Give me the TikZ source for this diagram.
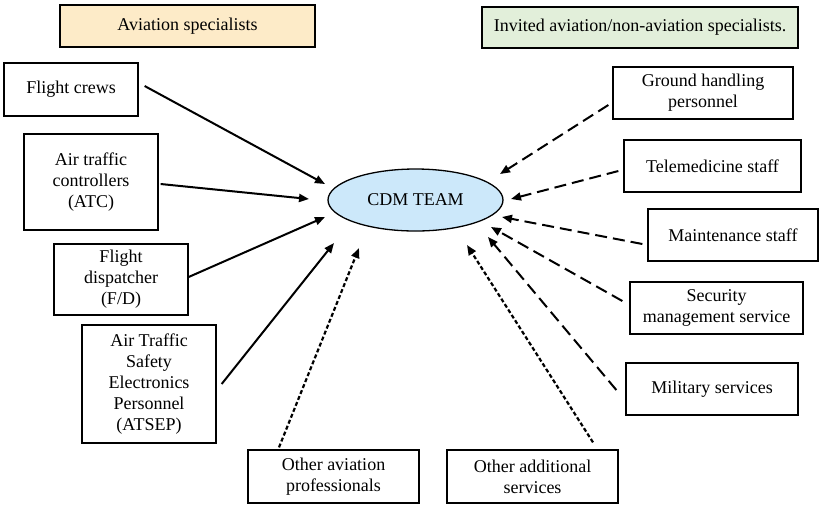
\documentclass[tikz,border=0pt]{standalone}
\usepackage{fontspec}
\setmainfont{Liberation Serif}
\usetikzlibrary{arrows.meta,shapes.geometric}
\definecolor{avfill}{RGB}{253,235,200}
\definecolor{invfill}{RGB}{226,239,218}
\definecolor{cdmfill}{RGB}{204,232,250}
\begin{document}
\begin{tikzpicture}[x=0.5pt,y=-0.5pt,
  every node/.style={font=\fontsize{9}{10.5}\selectfont},
  box/.style={draw, line width=0.65pt, align=center, inner sep=0pt},
  tip/.style={-{Triangle[length=5pt,width=4pt]}},
  solidlink/.style={tip, line width=1pt},
  dashlink/.style={tip, line width=1pt, dash pattern=on 6pt off 3pt},
  dotlink/.style={tip, line width=1.1pt, dash pattern=on 2pt off 1.2pt}]
\useasboundingbox (0,0) rectangle (819,505);

% group headers
\node[box, fill=avfill, minimum width=127.5pt, minimum height=21pt] (avs) at (187.5,26) {Aviation specialists};
\node[box, fill=invfill, minimum width=158pt, minimum height=20.5pt] (inv) at (640,27.5) {Invited aviation/non-aviation specialists.};

% central team
\node[ellipse, draw, line width=0.65pt, fill=cdmfill, minimum width=87.5pt, minimum height=31pt, inner sep=0pt] (cdm) at (415.5,200) {CDM TEAM};

% aviation specialists
\node[box, minimum width=67pt, minimum height=26.5pt] (fc) at (71,89.5) {Flight crews};
\node[box, minimum width=67pt, minimum height=48pt] (atc) at (91,182) {Air traffic\\controllers\\(ATC)};
\node[box, minimum width=67pt, minimum height=35.5pt] (fd) at (121,279.5) {Flight\\dispatcher\\(F/D)};
\node[box, minimum width=67pt, minimum height=59pt] (atsep) at (149,384) {Air Traffic\\Safety\\Electronics\\Personnel\\(ATSEP)};
\node[box, minimum width=85.5pt, minimum height=26.5pt] (oap) at (333.5,476.5) {Other aviation\\professionals};
\node[box, minimum width=85.5pt, minimum height=26.5pt] (oas) at (532.5,476.5) {Other additional\\services};

% invited specialists
\node[box, minimum width=90pt, minimum height=26pt] (gh) at (703,93) {Ground handling\\personnel};
\node[box, minimum width=88.5pt, minimum height=26pt] (tm) at (712.5,166) {Telemedicine staff};
\node[box, minimum width=85pt, minimum height=26pt] (ms) at (733,235) {Maintenance staff};
\node[box, minimum width=86.5pt, minimum height=26pt] (sm) at (716.5,308) {Security\\management service};
\node[box, minimum width=86pt, minimum height=26pt] (mil) at (712,389) {Military services};

% links from aviation specialists
\draw[solidlink] ([shift={(6,-3.5)}]fc.east) -- ([shift={(-90.5,-16)}]cdm.center);
\draw[solidlink] ([shift={(2,2)}]atc.east) -- ([shift={(-106.5,-1)}]cdm.center);
\draw[solidlink] ([shift={(0,-2.5)}]fd.east) -- ([shift={(-90.5,17)}]cdm.center);
\draw[solidlink] ([shift={(5,0)}]atsep.east) -- ([shift={(-81.5,43)}]cdm.center);
\draw[dotlink] ([shift={(-54.5,-2)}]oap.north) -- ([shift={(-56.5,48)}]cdm.center);
\draw[dotlink] ([shift={(60.5,-7)}]oas.north) -- ([shift={(51.5,45)}]cdm.center);

% links from invited specialists
\draw[dashlink] ([shift={(-4,12)}]gh.west) -- ([shift={(84.5,-26)}]cdm.center);
\draw[dashlink] ([shift={(-5,5)}]tm.west) -- ([shift={(95.5,-1)}]cdm.center);
\draw[dashlink] ([shift={(-5,9)}]ms.west) -- ([shift={(86.5,17)}]cdm.center);
\draw[dashlink] ([shift={(-7,-7)}]sm.west) -- ([shift={(75.5,27)}]cdm.center);
\draw[dashlink] ([shift={(-9,1)}]mil.west) -- ([shift={(72.5,37)}]cdm.center);
\end{tikzpicture}
\end{document}
